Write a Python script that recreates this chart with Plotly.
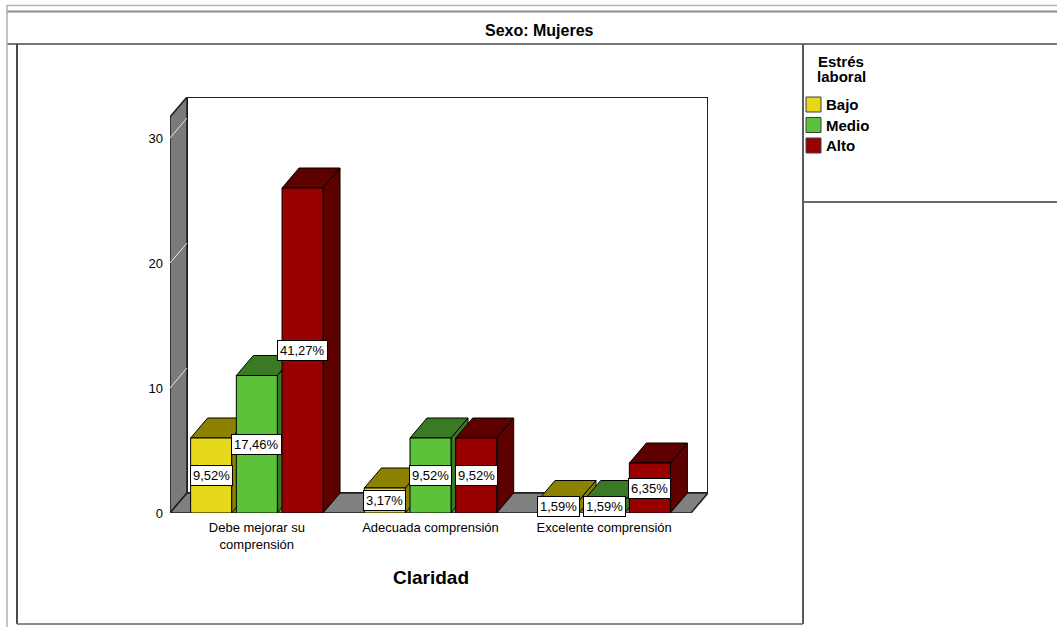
import plotly.graph_objects as go

# ---- datos ----
categorias = ["Debe mejorar su<br>comprensión", "Adecuada comprensión", "Excelente comprensión"]
niveles = ["Bajo", "Medio", "Alto"]
bajo = [6, 2, 1]
medio = [11, 6, 1]
alto = [26, 6, 4]
total_mujeres = 63
ticks_y = [0, 10, 20, 30]

color_frente = ["#E6D81A", "#5CC23A", "#990000"]
color_sombra = ["#8C8200", "#3B7A25", "#5C0000"]

series = [bajo, medio, alto]

# ---- geometría (pixeles de la página) ----
W, H = 1057, 627
L, R, T, B = 170, 708, 97, 513          # área de trazado
DX_PX, DY_PX = 17, 20                   # profundidad del efecto 3D
PITCH_PX = (R - L - DX_PX) / 3          # ancho de cada categoría
UNIT_PX = 12.5                          # pixeles por unidad del eje Y
dxu = DX_PX / PITCH_PX
dyu = DY_PX / UNIT_PX
ymax = (B - T) / UNIT_PX
ytop = ymax - dyu
ancho = 41 / PITCH_PX
paso = 45.7 / PITCH_PX

FONT = "Liberation Sans, Arial, sans-serif"


def px(xp):
    return (xp - L) / (R - L)


def py(yp):
    return (B - yp) / (B - T)


def fmt_pct(v):
    return f"{v / total_mujeres * 100:.2f}".replace(".", ",") + "%"


shapes = []
EDGE = "#1e1e1e"

# pared del fondo
shapes.append(dict(type="rect", xref="x", yref="y", layer="below",
                   x0=-0.5 + dxu, x1=2.5 + dxu, y0=dyu, y1=ymax,
                   fillcolor="white", line=dict(color=EDGE, width=2)))
# pared izquierda
shapes.append(dict(type="path", xref="x", yref="y", layer="below",
                   path=f"M -0.5,0 L -0.5,{ytop} L {-0.5 + dxu},{ymax} L {-0.5 + dxu},{dyu} Z",
                   fillcolor="#7a7a7a", line=dict(color=EDGE, width=1.5)))
# suelo
shapes.append(dict(type="path", xref="x", yref="y", layer="below",
                   path=f"M -0.5,0 L 2.5,0 L {2.5 + dxu},{dyu} L {-0.5 + dxu},{dyu} Z",
                   fillcolor="#808080", line=dict(color=EDGE, width=1.5)))
# líneas de referencia sobre la pared izquierda
for t in ticks_y[1:]:
    shapes.append(dict(type="line", xref="x", yref="y", layer="below",
                       x0=-0.5, y0=t, x1=-0.5 + dxu, y1=t + dyu,
                       line=dict(color="#e8e8e8", width=1)))

# caras laterales y superiores de cada barra (de izquierda a derecha)
for i in range(len(categorias)):
    for k, vals in enumerate(series):
        v = vals[i]
        xc = i + (k - 1) * paso
        x0, x1 = xc - ancho / 2, xc + ancho / 2
        shapes.append(dict(type="path", xref="x", yref="y", layer="below",
                           path=f"M {x1},0 L {x1 + dxu},{dyu} L {x1 + dxu},{v + dyu} L {x1},{v} Z",
                           fillcolor=color_sombra[k], line=dict(color="black", width=1)))
        shapes.append(dict(type="path", xref="x", yref="y", layer="below",
                           path=f"M {x0},{v} L {x1},{v} L {x1 + dxu},{v + dyu} L {x0 + dxu},{v + dyu} Z",
                           fillcolor=color_sombra[k], line=dict(color="black", width=1)))


# marcos del panel
def hline(y, xa, xb, color, width):
    shapes.append(dict(type="line", xref="paper", yref="paper", layer="above",
                       x0=px(xa), x1=px(xb), y0=py(y), y1=py(y),
                       line=dict(color=color, width=width)))


def vline(x, ya, yb, color, width):
    shapes.append(dict(type="line", xref="paper", yref="paper", layer="above",
                       x0=px(x), x1=px(x), y0=py(ya), y1=py(yb),
                       line=dict(color=color, width=width)))


hline(5.5, 7, W, "#b4b4b4", 1.5)
hline(11.5, 7, W, "#8a8a8a", 2)
hline(44, 7, W, "#4a4a4a", 1.5)
vline(7, 5, H, "#b0b0b0", 1.5)
vline(17, 44, 624, "#4a4a4a", 2)
hline(624, 17, 803, "#8a8a8a", 2)
vline(803, 44, 624, "#5a5a5a", 2)
hline(202, 803, W, "#6a6a6a", 2)

fig = go.Figure()

# caras frontales de las barras
for k, vals in enumerate(series):
    fig.add_trace(go.Bar(
        name=niveles[k],
        x=[i + (k - 1) * paso for i in range(len(categorias))],
        y=vals,
        width=ancho,
        marker=dict(color=color_frente[k], line=dict(color="black", width=1)),
        showlegend=False,
        hoverinfo="skip",
    ))

annotations = []
# etiquetas de porcentaje
for k, vals in enumerate(series):
    for i, v in enumerate(vals):
        annotations.append(dict(
            xref="x", yref="y", x=i + (k - 1) * paso, y=v / 2,
            text=fmt_pct(v), showarrow=False, height=15,
            font=dict(family=FONT, size=13, color="black"),
            bgcolor="white", bordercolor="black", borderwidth=1, borderpad=2,
            xanchor="center", yanchor="middle"))

# título del panel
annotations.append(dict(xref="paper", yref="paper", x=px(539), y=py(31),
                        text="<b>Sexo: Mujeres</b>", showarrow=False,
                        font=dict(family=FONT, size=16, color="black"),
                        xanchor="center", yanchor="middle"))
# título del eje X
annotations.append(dict(xref="paper", yref="paper", x=px(431), y=py(577),
                        text="<b>Claridad</b>", showarrow=False,
                        font=dict(family=FONT, size=19, color="black"),
                        xanchor="center", yanchor="middle"))

# leyenda
for j, linea in enumerate(["Estrés", "laboral"]):
    annotations.append(dict(xref="paper", yref="paper", x=px(841), y=py(61 + 16 * j),
                            text=f"<b>{linea}</b>", showarrow=False,
                            font=dict(family=FONT, size=15, color="black"),
                            xanchor="center", yanchor="middle"))
for k, nombre in enumerate(niveles):
    yc = 104.5 + k * 20.5
    shapes.append(dict(type="rect", xref="paper", yref="paper", layer="above",
                       x0=px(806), x1=px(821), y0=py(yc + 7.5), y1=py(yc - 7.5),
                       fillcolor=color_frente[k], line=dict(color="#404040", width=1)))
    annotations.append(dict(xref="paper", yref="paper", x=px(824), y=py(yc),
                            text=f"<b>{nombre}</b>", showarrow=False,
                            font=dict(family=FONT, size=15, color="black"),
                            xanchor="left", yanchor="middle"))

fig.update_layout(
    width=W, height=H,
    margin=dict(l=L, r=W - R, t=T, b=H - B, pad=0),
    paper_bgcolor="white", plot_bgcolor="rgba(0,0,0,0)",
    barmode="overlay",
    showlegend=False,
    shapes=shapes,
    annotations=annotations,
    font=dict(family=FONT, color="black"),
    xaxis=dict(range=[-0.5, 2.5 + dxu], tickvals=list(range(len(categorias))),
               ticktext=categorias, showgrid=False, zeroline=False, showline=False,
               ticks="", ticklabelstandoff=5,
               tickfont=dict(family=FONT, size=13, color="black"),
               fixedrange=True),
    yaxis=dict(range=[0, ymax], tickvals=ticks_y, showgrid=False, zeroline=False,
               showline=False, ticks="", ticklabelstandoff=6,
               tickfont=dict(family=FONT, size=13, color="black"), fixedrange=True),
)

fig.write_html("out.html")
